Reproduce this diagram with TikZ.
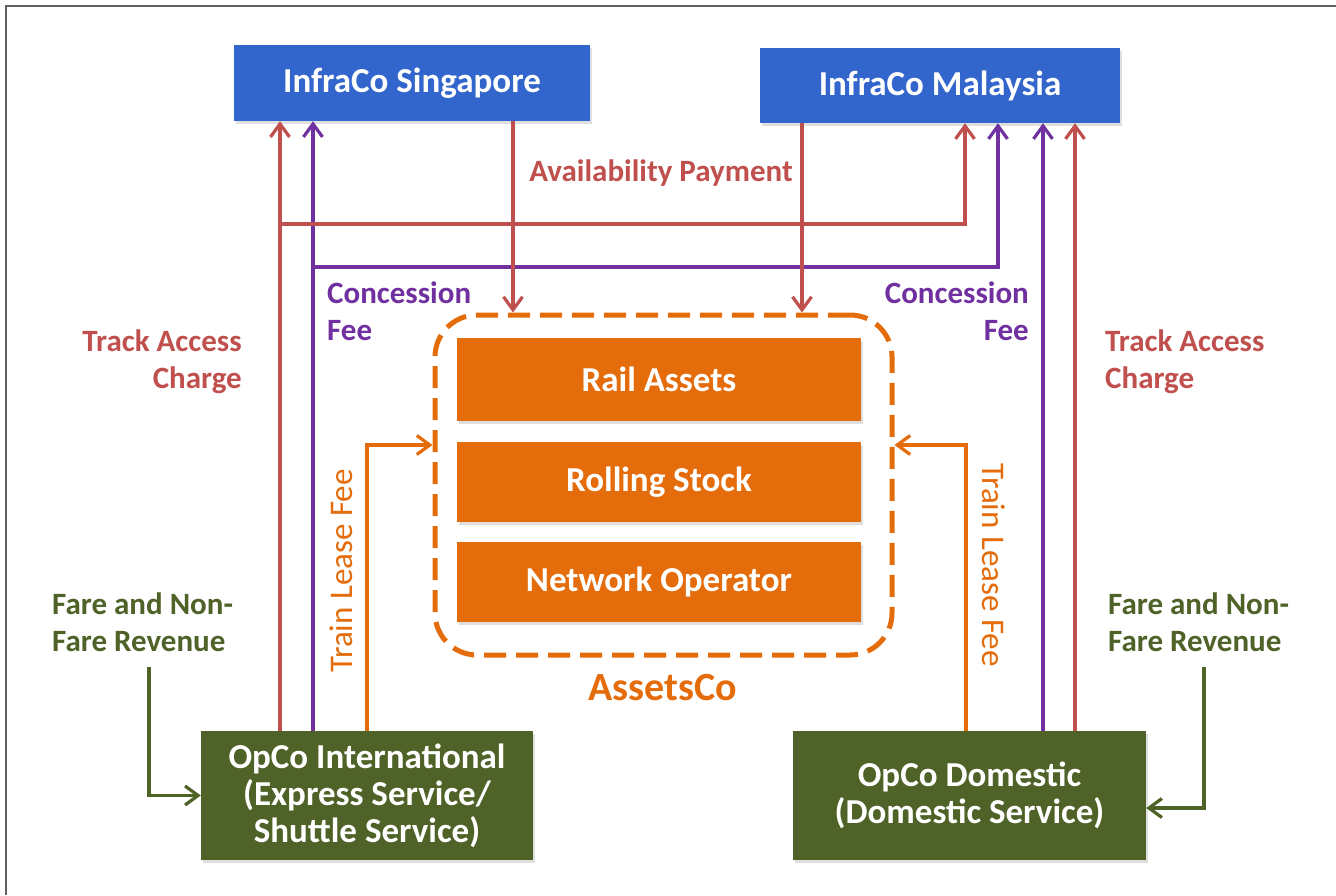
\documentclass[tikz,border=0pt]{standalone}
\usepackage{fontspec}
\setmainfont{Carlito}
\usetikzlibrary{arrows.meta,shadows}
\definecolor{cblue}{HTML}{3366CC}
\definecolor{corange}{HTML}{E46C0A}
\definecolor{cgreen}{HTML}{4F6228}
\definecolor{cred}{HTML}{C0504D}
\definecolor{cpurple}{HTML}{7030A0}
\definecolor{cframe}{HTML}{606060}
\tikzset{
  boxbase/.style={draw=none,inner sep=0pt,align=center,text=white,
    font=\fontsize{35}{37}\selectfont\bfseries,
    drop shadow={opacity=0.25,shadow xshift=2pt,shadow yshift=-3pt}},
  bluebox/.style={boxbase,fill=cblue},
  orangebox/.style={boxbase,fill=corange},
  greenbox/.style={boxbase,fill=cgreen},
  lbl/.style={inner sep=0pt,font=\fontsize{31}{37}\selectfont\bfseries},
  tiphead/.style={-{Straight Barb[length=13pt,width=19pt,line width=3.2pt]}},
  flow/.style={line width=3.2pt,tiphead},
  redflow/.style={flow,draw=cred},
  purpleflow/.style={flow,draw=cpurple},
  orangeflow/.style={flow,draw=corange},
  greenflow/.style={flow,draw=cgreen},
}
\begin{document}
\begin{tikzpicture}[x=1pt,y=-1pt]
\useasboundingbox (0,0) rectangle (1336,895);
\fill[white] (0,0) rectangle (1336,895);
\draw[cframe,line width=2pt] (6,895) -- (6,6) -- (1336,6);

% boxes
\node[bluebox,minimum width=356pt,minimum height=76pt] (sg) at (412,83) {InfraCo Singapore};
\node[bluebox,minimum width=360pt,minimum height=75pt] (my) at (940,85.5) {InfraCo Malaysia};
\node[draw=corange,line width=5pt,dash pattern=on 22pt off 10pt,rounded corners=42pt,
      minimum width=457pt,minimum height=340pt,inner sep=0pt] (ac) at (663.5,485) {};
\node[orangebox,minimum width=404pt,minimum height=83pt] (rail) at (659,379.5) {Rail Assets};
\node[orangebox,minimum width=404pt,minimum height=80pt] (roll) at (659,482) {Rolling Stock};
\node[orangebox,minimum width=404pt,minimum height=80pt] (net) at (659,582) {Network Operator};
\node[greenbox,minimum width=332pt,minimum height=129pt] (opi) at (367,795.5) {OpCo International\\(Express Service/\\Shuttle Service)};
\node[greenbox,minimum width=353pt,minimum height=129pt] (opd) at (969.5,795.5) {OpCo Domestic\\(Domestic Service)};

% labels
\node[lbl,text=cred] (lav) at (661,173) {Availability Payment};
\node[lbl,text=cpurple,align=left,anchor=west] (lcl) at (327,311) {Concession\\Fee};
\node[lbl,text=cpurple,align=right,anchor=east] (lcr) at (1029,311) {Concession\\Fee};
\node[lbl,text=cred,align=right,anchor=east] (ltl) at (242,362) {Track Access\\Charge};
\node[lbl,text=cred,align=left,anchor=west] (ltr) at (1105,362) {Track Access\\Charge};
\node[lbl,text=cgreen,align=left,anchor=west] (lfl) at (52,622) {Fare and Non-\\Fare Revenue};
\node[lbl,text=cgreen,align=left,anchor=west] (lfr) at (1108,622) {Fare and Non-\\Fare Revenue};
\node[lbl,text=corange,font=\fontsize{33}{37}\selectfont,rotate=90] (ltll) at (341,571) {Train Lease Fee};
\node[lbl,text=corange,font=\fontsize{33}{37}\selectfont,rotate=-90] (ltlr) at (994,565) {Train Lease Fee};
\node[lbl,text=corange,font=\fontsize{40}{44}\selectfont\bfseries] (lac) at (663,688) {AssetsCo};

% helper coordinates
\coordinate (xa) at (280,224);
\coordinate (xb) at (313,267);
\coordinate (xc) at (513,0);
\coordinate (xd) at (802,0);
\coordinate (xe) at (965,0);
\coordinate (xf) at (998,0);
\coordinate (xg) at (1043,0);
\coordinate (xh) at (1075,0);
\coordinate (tl) at (367,445);
\coordinate (tr) at (966,445);
\coordinate (gl) at (149,667);
\coordinate (gr) at (1204,667);
\coordinate (gr2) at (1204,808);

% connectors
\draw[redflow] (opi.north -| xa) -- (sg.south -| xa);
\draw[purpleflow] (opi.north -| xb) -- (sg.south -| xb);
\draw[redflow] (xa) -| (my.south -| xe);
\draw[purpleflow] (xb) -| (my.south -| xf);
\draw[purpleflow] (opd.north -| xg) -- (my.south -| xg);
\draw[redflow] (opd.north -| xh) -- (my.south -| xh);
\draw[redflow] (sg.south -| xc) -- (ac.north -| xc);
\draw[redflow] (my.south -| xd) -- (ac.north -| xd);
\draw[orangeflow] (opi.north -| tl) |- (ac.west |- tl);
\draw[orangeflow] (opd.north -| tr) |- (ac.east |- tr);
\draw[greenflow] (gl) |- (opi.west);
\draw[greenflow] (gr) -- (gr2) -- (opd.east |- gr2);
\end{tikzpicture}
\end{document}
